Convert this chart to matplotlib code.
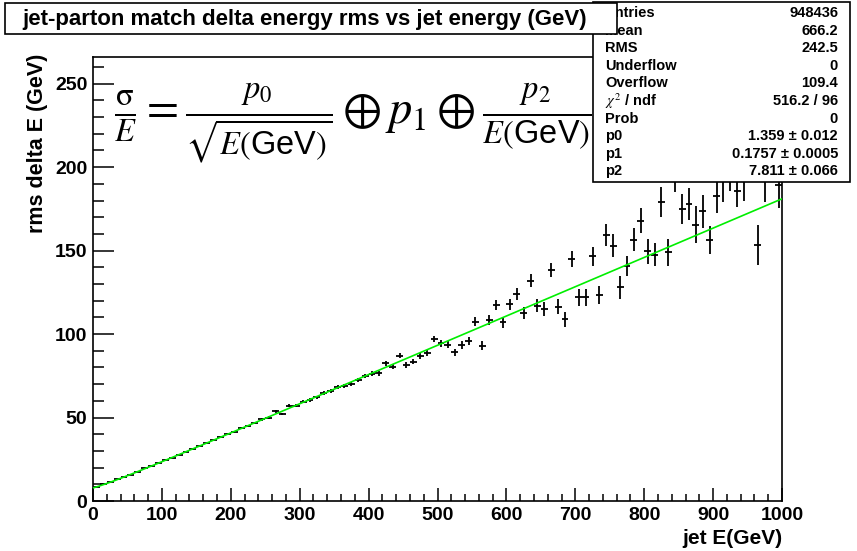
import numpy as np
import matplotlib.pyplot as plt
from matplotlib.patches import Rectangle
from matplotlib.ticker import MultipleLocator

plt.rcParams['font.family'] = ['Liberation Sans', 'DejaVu Sans']
plt.rcParams['mathtext.fontset'] = 'stix'

# histogram axis: 100 bins of 10 GeV between 0 and 1000
n_bins, e_lo, e_hi = 100, 0.0, 1000.0

# rms delta E per bin (GeV)
rms = [
    8.6, 10.3, 11.2, 12.9, 14.5, 15.8, 17.6, 19.5, 20.9, 22.6,
    24.6, 26.0, 27.7, 29.6, 31.1, 33.2, 34.6, 36.3, 38.4, 40.1,
    41.5, 43.6, 45.0, 46.7, 48.9, 50.0, 53.8, 52.2, 57.2, 57.0,
    59.4, 60.6, 62.2, 64.8, 65.8, 68.3, 69.0, 69.8, 72.6, 75.0,
    76.2, 76.5, 82.5, 80.5, 87.0, 81.5, 83.5, 87.0, 88.5, 97.0,
    94.5, 93.5, 89.0, 93.5, 96.0, 107.5, 93.0, 108.5, 117.5, 107.0,
    118.0, 124.0, 112.5, 132.0, 117.0, 115.0, 138.5, 116.5, 109.0, 145.0,
    122.0, 122.0, 146.5, 123.5, 159.5, 153.0, 128.0, 140.5, 156.5, 168.0,
    149.5, 147.5, 179.0, 149.0, 194.0, 175.0, 178.0, 165.5, 173.5, 156.5,
    182.5, 195.0, 196.0, 186.0, 195.0, 212.0, 153.5, 196.0, 214.0, 189.5,
]
rms_err = [
    0.3, 0.3, 0.3, 0.3, 0.3, 0.3, 0.3, 0.3, 0.4, 0.4,
    0.4, 0.4, 0.4, 0.5, 0.5, 0.5, 0.5, 0.5, 0.6, 0.6,
    0.6, 0.6, 0.7, 0.7, 0.7, 0.8, 0.8, 0.8, 0.9, 0.9,
    0.9, 1.0, 1.0, 1.0, 1.1, 1.1, 1.2, 1.2, 1.3, 1.3,
    1.4, 1.4, 1.5, 1.5, 1.6, 1.7, 1.7, 1.8, 1.9, 2.0,
    2.0, 2.1, 2.2, 2.3, 2.4, 2.5, 2.7, 2.8, 3.0, 3.1,
    3.3, 3.5, 3.5, 3.8, 4.0, 4.0, 4.3, 4.3, 4.5, 5.0,
    5.0, 5.0, 5.5, 5.5, 6.5, 7.0, 7.0, 6.0, 7.0, 7.5,
    7.5, 7.0, 9.0, 8.0, 9.0, 9.0, 9.5, 11.0, 10.0, 8.5,
    10.0, 16.0, 10.0, 10.0, 15.0, 12.0, 12.0, 17.0, 12.0, 14.0,
]

# fit parameters  sigma/E = p0/sqrt(E) (+) p1 (+) p2/E
p0, p1, p2 = 1.359, 0.1757, 7.811

stat_labels = ["Entries", "Mean", "RMS", "Underflow", "Overflow",
               r"$\chi^{2}$ / ndf", "Prob", "p0", "p1", "p2"]
stat_values = ["948436", "666.2", "242.5", "0", "109.4", "516.2 / 96", "0",
               "1.359 \u00b1 0.012", "0.1757 \u00b1 0.0005", "7.811 \u00b1 0.066"]

W, H = 857, 551
fig = plt.figure(figsize=(W / 100, H / 100), dpi=100)


def fx(px):
    return px / W


def fy(py):
    return 1 - py / H


ax = fig.add_axes([fx(93), fy(501), (782 - 93) / W, (501 - 57) / H])

edges = np.linspace(e_lo, e_hi, n_bins + 1)
centres = 0.5 * (edges[:-1] + edges[1:])
half_w = 0.5 * (edges[1:] - edges[:-1])

ax.errorbar(centres, rms, xerr=half_w, yerr=rms_err, fmt='none',
            ecolor='black', elinewidth=1.3, capsize=0, zorder=3)

e_fit = np.linspace(e_lo, e_hi, 101)
sig_fit = np.sqrt(p0 ** 2 * e_fit + (p1 * e_fit) ** 2 + p2 ** 2)
ax.plot(e_fit, sig_fit, color='#00ee00', lw=1.2, zorder=4)

ax.set_xlim(e_lo, e_hi)
ax.set_ylim(0, 266)
ax.xaxis.set_major_locator(MultipleLocator(100))
ax.xaxis.set_minor_locator(MultipleLocator(20))
ax.yaxis.set_major_locator(MultipleLocator(50))
ax.yaxis.set_minor_locator(MultipleLocator(10))
ax.tick_params(axis='x', which='major', direction='in', length=9.5, width=1.1,
               top=False, pad=4, labelsize=14)
ax.tick_params(axis='x', which='minor', direction='in', length=5, width=1.1, top=False)
ax.tick_params(axis='y', which='major', direction='in', length=15, width=1.1,
               right=False, pad=4, labelsize=14)
ax.tick_params(axis='y', which='minor', direction='in', length=8, width=1.1, right=False)
for lab in ax.get_xticklabels() + ax.get_yticklabels():
    lab.set_fontweight('bold')
for sp in ax.spines.values():
    sp.set_linewidth(1.2)

fig.text(fx(38), fy(54), "rms delta E (GeV)", rotation=90, ha='center', va='top',
         fontsize=15.5, fontweight='bold')
fig.text(fx(782), fy(538), "jet E(GeV)", ha='right', va='center',
         fontsize=15, fontweight='bold')

# formula
fig.text(fx(114), fy(123),
         r'$\frac{\mathrm{\sigma}}{E} = \frac{p_{0}}{\sqrt{E(\mathregular{GeV})}}'
         r' \oplus p_{1} \oplus \frac{p_{2}}{E(\mathregular{GeV})}$',
         ha='left', va='center', fontsize=33.5, zorder=4)

# stats box
fig.patches.append(Rectangle((fx(593), fy(182)), (850 - 593) / W, (182 - 2) / H,
                             transform=fig.transFigure, fc='white', ec='black',
                             lw=1.2, zorder=5))
for i, (lab, val) in enumerate(zip(stat_labels, stat_values)):
    yy = fy(13 + 17.6 * i)
    fig.text(fx(605), yy, lab, ha='left', va='center', fontsize=10.5,
             fontweight='bold', zorder=6)
    fig.text(fx(838), yy, val, ha='right', va='center', fontsize=10.5,
             fontweight='bold', zorder=6)

# title box
fig.patches.append(Rectangle((fx(5), fy(34)), (617 - 5) / W, (34 - 3) / H,
                             transform=fig.transFigure, fc='white', ec='black',
                             lw=1.2, zorder=7))
fig.text(fx(305), fy(19), "jet-parton match delta energy rms vs jet energy (GeV)",
         ha='center', va='center', fontsize=16, fontweight='bold', zorder=8)

fig.savefig("out.png", dpi=100)
